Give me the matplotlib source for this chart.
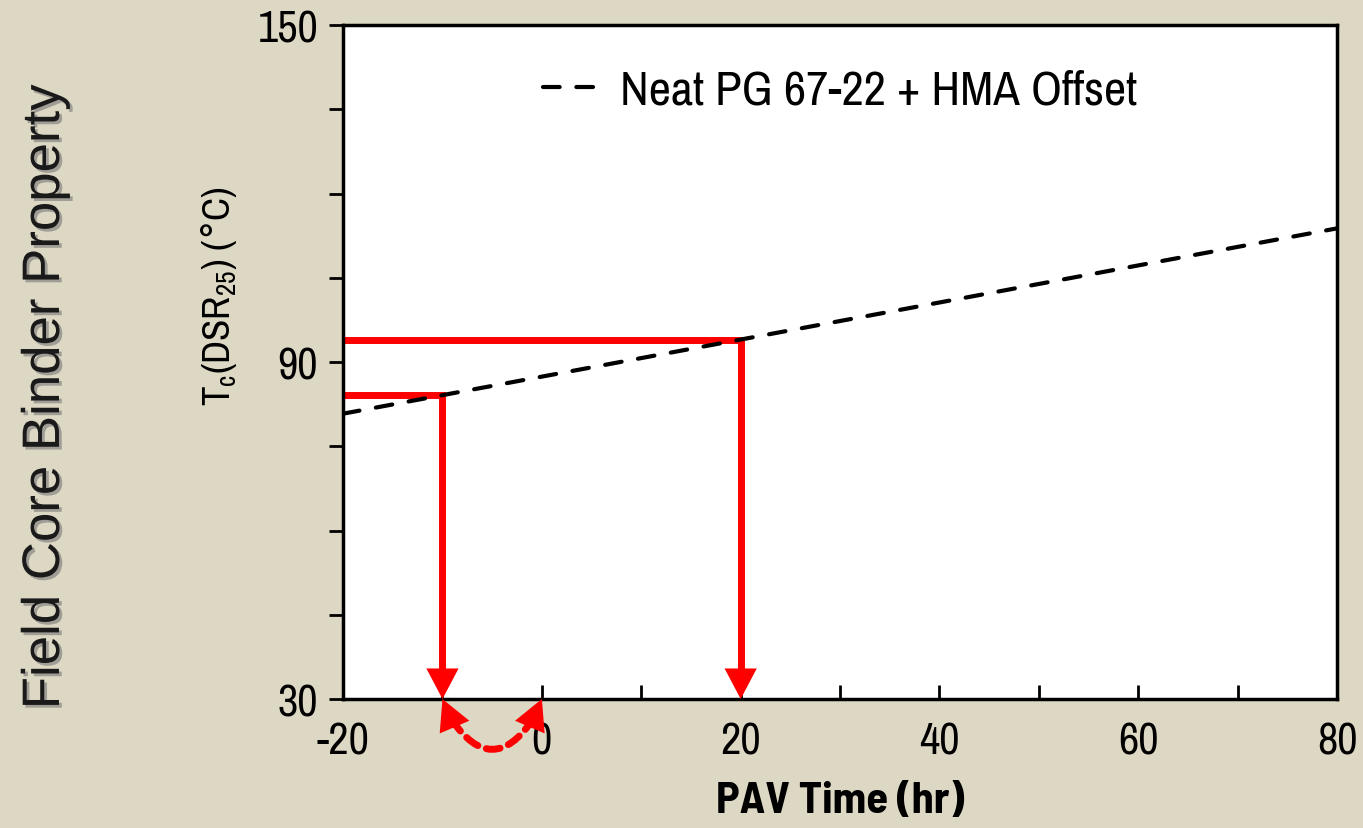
import matplotlib.pyplot as plt
import matplotlib.ticker as ticker
import matplotlib.patheffects as pe

plt.rcParams['axes.unicode_minus'] = False

# dashed trend line (PAV time vs Tc)
pav_time = [-20, 80]
tc_neat = [80.8, 113.8]

# red read-off lines
high_x, high_y = 20, 94.0
low_x, low_y = -10, 84.1
shift_from, shift_to = -10, 0

y_ticks = [30, 90, 150]

bg = '#DDD8C4'
red = '#FF0000'
narrow = ['Archivo Narrow', 'DejaVu Sans']

fig = plt.figure(figsize=(13.63, 8.29), dpi=100, facecolor=bg)
ax = fig.add_axes([0.2517, 0.1556, 0.7293, 0.813])
ax.set_facecolor('white')

ax.plot(pav_time, tc_neat, color='black', lw=3, ls=(0, (4, 4)), dash_capstyle='round',
        label='Neat PG 67-22 + HMA Offset', zorder=3)

head = '-|>,head_length=1.1,head_width=0.58'

# red guides: across, then down to the axis
for xv, yv in [(high_x, high_y), (low_x, low_y)]:
    ax.plot([-20, xv, xv], [yv, yv, 33], color=red, lw=5, solid_joinstyle='miter',
            solid_capstyle='butt', zorder=2)
    ax.annotate('', xy=(xv, 30), xytext=(0, 18), textcoords='offset points',
                arrowprops=dict(arrowstyle=head, mutation_scale=20, color=red, lw=0,
                                shrinkA=0, shrinkB=0), zorder=4)

# curved dashed link below the axis
ax.annotate('', xy=(shift_to, 29.0), xytext=(shift_from, 29.0),
            arrowprops=dict(arrowstyle='-', connectionstyle='arc3,rad=0.9', color=red, lw=5,
                            ls=(0, (2.0, 1.3)), shrinkA=13, shrinkB=13),
            annotation_clip=False, zorder=5)
for xv, dx in [(shift_from, 6), (shift_to, -6)]:
    ax.annotate('', xy=(xv, 30), xytext=(dx, -14), textcoords='offset points',
                arrowprops=dict(arrowstyle=head, mutation_scale=20, color=red, lw=0,
                                shrinkA=0, shrinkB=0),
                annotation_clip=False, zorder=6)

ax.set_xlim(-20, 80)
ax.set_ylim(30, 150)
ax.xaxis.set_major_locator(ticker.MultipleLocator(20))
ax.xaxis.set_minor_locator(ticker.MultipleLocator(10))
ax.yaxis.set_major_locator(ticker.FixedLocator(y_ticks))
ax.yaxis.set_minor_locator(ticker.MultipleLocator(15))

ax.tick_params(axis='x', which='both', direction='in', length=10, width=2, pad=16)
ax.tick_params(axis='y', which='both', direction='out', length=10, width=2, pad=8)
for lab in ax.get_xticklabels() + ax.get_yticklabels():
    lab.set_family(narrow)
    lab.set_fontsize(32)

for s in ax.spines.values():
    s.set_linewidth(2.5)

ax.set_xlabel('PAV Time (hr)', family=['Barlow Semi Condensed', 'DejaVu Sans'], fontsize=32,
              fontweight='bold', labelpad=14)
ax.set_ylabel(r'T$_\mathregular{c}$(DSR$_\mathregular{25}$) ($\degree$C)', family=narrow, fontsize=28)
ax.yaxis.set_label_coords(-0.105, 0.6)

fig.text(0.033, 0.52, 'Field Core Binder Property', rotation=90, ha='center', va='center',
         fontsize=38, family=['Liberation Sans', 'DejaVu Sans'], color='#1a1a1a',
         path_effects=[pe.withSimplePatchShadow(offset=(2, -2), shadow_rgbFace='#777777', alpha=0.6)])

leg = ax.legend(loc='upper center', frameon=False, prop={'family': narrow, 'size': 35},
                handlelength=1.2, handletextpad=0.4, bbox_to_anchor=(0.5, 1.0))

plt.savefig('out.png', dpi=100, facecolor=bg)
